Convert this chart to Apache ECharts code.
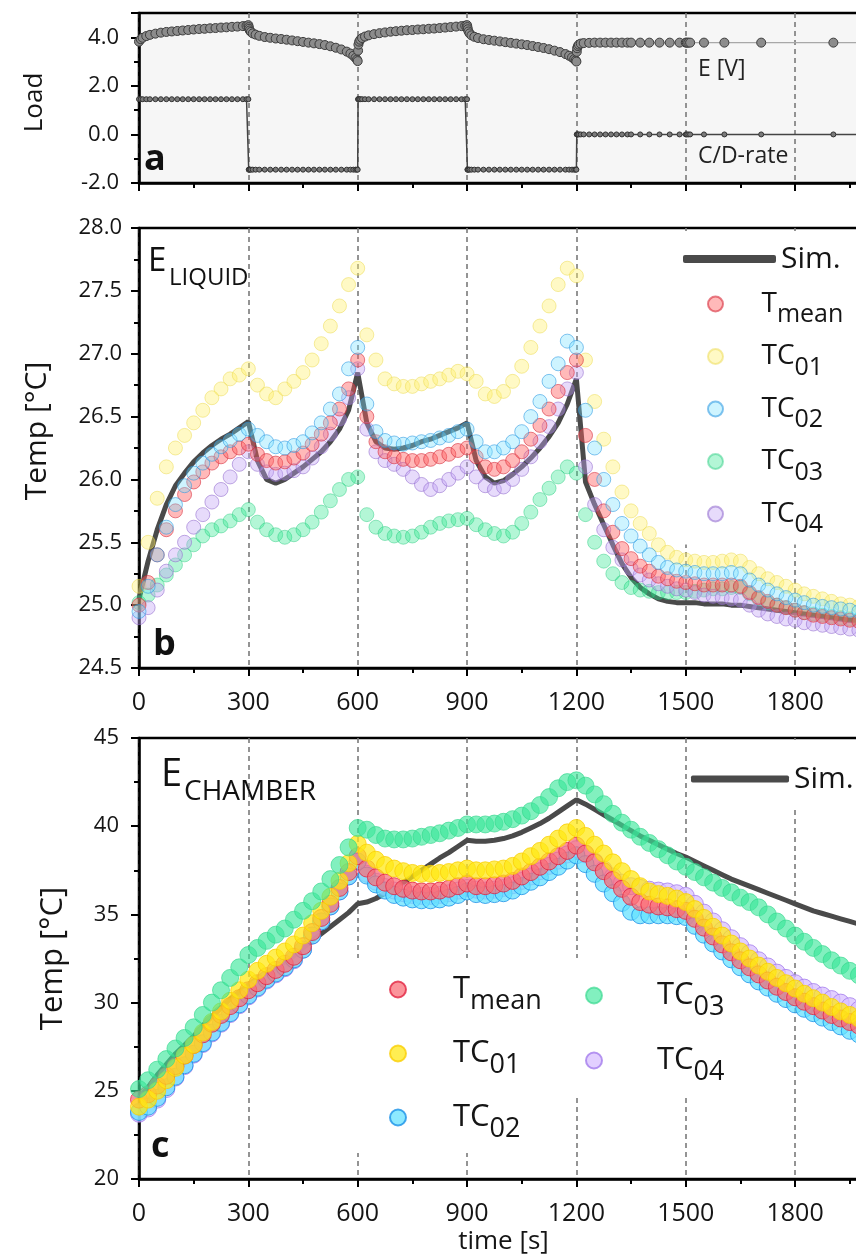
<!DOCTYPE html>
<html><head><meta charset="utf-8">
<script src="https://cdn.jsdelivr.net/npm/echarts@6/dist/echarts.min.js"></script>
<style>html,body{margin:0;padding:0;background:#fff;}#chart{width:856px;height:1256px;}</style>
</head><body><div id="chart"></div>
<script>
const FONT = "'Open Sans', 'DejaVu Sans', sans-serif";

// ---------- panel a : load ----------
const timeA = [0,5,10,20,30,45,60,75,90,105,120,135,150,165,180,195,210,225,240,255,270,285,295,300,
  301,302,304,307,312,320,330,345,360,375,390,405,420,435,450,465,480,495,510,525,540,555,570,580,588,594,598,600,
  601,602,604,607,612,620,630,645,660,675,690,705,720,735,750,765,780,795,810,825,840,855,870,885,895,900,
  901,902,904,907,912,920,930,945,960,975,990,1005,1020,1035,1050,1065,1080,1095,1110,1125,1140,1155,1170,1180,1188,1194,1198,1200,
  1201,1202,1204,1207,1212,1220,1235,1250,1265,1280,1295,1310,1325,1340,1350,1375,1400,1428,1456,1483,1500,1503,1507,1512,1550,1606,1707,1905,2310];
const voltE = [3.82,3.92,3.98,4.05,4.10,4.15,4.19,4.22,4.24,4.26,4.28,4.30,4.32,4.34,4.35,4.37,4.38,4.40,4.41,4.43,4.44,4.46,4.47,4.50,
  4.42,4.35,4.28,4.22,4.16,4.11,4.06,4.01,3.98,3.95,3.93,3.90,3.87,3.84,3.81,3.78,3.75,3.72,3.68,3.63,3.57,3.50,3.41,3.33,3.24,3.15,3.08,3.02,
  3.45,3.70,3.82,3.90,3.97,4.03,4.08,4.13,4.17,4.20,4.23,4.25,4.27,4.29,4.30,4.32,4.33,4.35,4.36,4.38,4.40,4.42,4.44,4.46,4.48,4.50,
  4.42,4.33,4.24,4.16,4.08,4.02,3.97,3.92,3.89,3.86,3.83,3.80,3.77,3.74,3.71,3.68,3.64,3.60,3.56,3.51,3.45,3.39,3.31,3.24,3.17,3.10,3.05,3.00,
  3.40,3.55,3.64,3.70,3.74,3.76,3.77,3.78,3.78,3.78,3.78,3.78,3.78,3.78,3.78,3.78,3.78,3.78,3.78,3.78,3.78,3.78,3.78,3.78,3.78,3.78,3.78,3.78,3.78];
const rateCD = [1.45,1.45,1.45,1.45,1.45,1.45,1.45,1.45,1.45,1.45,1.45,1.45,1.45,1.45,1.45,1.45,1.45,1.45,1.45,1.45,1.45,1.45,1.45,1.45,
  -1.45,-1.45,-1.45,-1.45,-1.45,-1.45,-1.45,-1.45,-1.45,-1.45,-1.45,-1.45,-1.45,-1.45,-1.45,-1.45,-1.45,-1.45,-1.45,-1.45,-1.45,-1.45,-1.45,-1.45,-1.45,-1.45,-1.45,-1.45,
  1.45,1.45,1.45,1.45,1.45,1.45,1.45,1.45,1.45,1.45,1.45,1.45,1.45,1.45,1.45,1.45,1.45,1.45,1.45,1.45,1.45,1.45,1.45,1.45,1.45,1.45,
  -1.45,-1.45,-1.45,-1.45,-1.45,-1.45,-1.45,-1.45,-1.45,-1.45,-1.45,-1.45,-1.45,-1.45,-1.45,-1.45,-1.45,-1.45,-1.45,-1.45,-1.45,-1.45,-1.45,-1.45,-1.45,-1.45,-1.45,-1.45,
  0,0,0,0,0,0,0,0,0,0,0,0,0,0,0,0,0,0,0,0,0,0,0,0,0,0,0,0,0];

// ---------- shared time base for panels b and c (s) ----------
const timeBC = [0,25,50,75,100,125,150,175,200,225,250,275,
  300,325,350,375,400,425,450,475,500,525,550,575,
  600,625,650,675,700,725,750,775,800,825,850,875,
  900,925,950,975,1000,1025,1050,1075,1100,1125,1150,1175,
  1200,1225,1250,1275,1300,1325,1350,1375,1400,1425,1450,1475,
  1500,1525,1550,1575,1600,1625,1650,1675,1700,1725,1750,1775,
  1800,1825,1850,1875,1900,1925,1950,1975,2000];

// ---------- panel b : E_LIQUID ----------
const simB = [25.05,25.35,25.60,25.80,25.95,26.05,26.14,26.21,26.27,26.32,26.36,26.41,
  26.46,26.15,26.00,25.97,26.00,26.05,26.10,26.16,26.22,26.30,26.40,26.55,
  26.85,26.45,26.30,26.25,26.24,26.25,26.27,26.30,26.32,26.35,26.38,26.41,
  26.45,26.15,26.02,25.97,25.99,26.04,26.10,26.17,26.25,26.34,26.45,26.60,
  26.80,25.98,25.80,25.64,25.48,25.33,25.22,25.14,25.09,25.05,25.03,25.02,
  25.02,25.02,25.01,25.01,25.01,25.00,25.00,24.99,24.98,24.97,24.96,24.95,
  24.94,24.93,24.92,24.91,24.90,24.89,24.88,24.88,24.87];
const tmeanB = [25.00,25.18,25.40,25.60,25.75,25.88,25.98,26.06,26.13,26.18,26.22,26.25,
  26.28,26.20,26.15,26.13,26.14,26.17,26.21,26.28,26.36,26.45,26.56,26.72,
  26.95,26.50,26.30,26.22,26.18,26.16,26.15,26.15,26.16,26.18,26.20,26.23,
  26.25,26.18,26.10,26.08,26.10,26.15,26.22,26.32,26.43,26.56,26.70,26.85,
  26.95,26.35,26.00,25.75,25.58,25.45,25.37,25.31,25.27,25.23,25.21,25.19,
  25.18,25.17,25.16,25.16,25.16,25.16,25.15,25.10,25.06,25.03,25.00,24.98,
  24.96,24.94,24.92,24.91,24.90,24.89,24.88,24.87,24.86];
const tc01B = [25.15,25.50,25.85,26.10,26.25,26.35,26.45,26.55,26.65,26.72,26.80,26.83,
  26.88,26.75,26.68,26.65,26.72,26.78,26.85,26.95,27.08,27.22,27.38,27.55,
  27.68,27.15,26.95,26.80,26.76,26.74,26.74,26.76,26.78,26.80,26.83,26.86,
  26.84,26.78,26.68,26.66,26.70,26.78,26.90,27.05,27.22,27.38,27.55,27.68,
  27.62,26.95,26.62,26.32,26.10,25.90,25.75,25.65,25.57,25.48,25.42,25.38,
  25.36,25.35,25.34,25.34,25.35,25.36,25.35,25.30,25.25,25.21,25.18,25.15,
  25.12,25.09,25.07,25.05,25.03,25.01,25.00,24.99,24.98];
const tc02B = [24.95,25.15,25.40,25.62,25.80,25.95,26.05,26.13,26.20,26.26,26.31,26.36,
  26.40,26.35,26.30,26.26,26.25,26.27,26.30,26.37,26.45,26.56,26.68,26.88,
  27.05,26.60,26.38,26.31,26.29,26.28,26.29,26.30,26.31,26.33,26.35,26.38,
  26.40,26.30,26.22,26.22,26.25,26.30,26.38,26.50,26.62,26.78,26.92,27.10,
  27.05,26.55,26.25,26.00,25.80,25.65,25.55,25.47,25.40,25.34,25.30,25.28,
  25.27,25.26,25.25,25.25,25.25,25.26,25.25,25.20,25.16,25.12,25.09,25.06,
  25.04,25.02,25.00,24.99,24.98,24.97,24.96,24.95,24.94];
const tc03B = [25.02,25.08,25.16,25.24,25.32,25.40,25.48,25.55,25.60,25.63,25.67,25.72,
  25.76,25.66,25.60,25.56,25.54,25.56,25.60,25.66,25.74,25.83,25.92,26.00,
  26.02,25.72,25.62,25.57,25.55,25.54,25.55,25.58,25.62,25.65,25.67,25.68,
  25.69,25.64,25.60,25.57,25.55,25.58,25.65,25.74,25.84,25.93,26.02,26.10,
  26.05,25.72,25.50,25.35,25.25,25.18,25.14,25.12,25.11,25.10,25.10,25.10,
  25.10,25.11,25.12,25.13,25.13,25.14,25.14,25.09,25.05,25.02,25.00,24.98,
  24.96,24.94,24.93,24.92,24.91,24.90,24.89,24.88,24.87];
const tc04B = [24.90,24.98,25.12,25.27,25.40,25.50,25.62,25.72,25.82,25.92,26.02,26.12,
  26.22,26.12,26.06,26.04,26.05,26.07,26.10,26.17,26.26,26.36,26.48,26.65,
  26.88,26.40,26.22,26.15,26.12,26.08,26.02,25.96,25.92,25.95,26.00,26.05,
  26.10,26.02,25.95,25.92,25.94,26.00,26.08,26.18,26.30,26.42,26.56,26.72,
  26.85,26.10,25.80,25.60,25.46,25.36,25.29,25.24,25.20,25.17,25.15,25.13,
  25.12,25.10,25.08,25.07,25.06,25.05,25.04,25.00,24.96,24.93,24.91,24.89,
  24.88,24.86,24.85,24.84,24.83,24.82,24.81,24.80,24.80];

// ---------- panel c : E_CHAMBER ----------
const simC = [24.6,25.2,25.9,26.5,27.1,27.6,28.1,28.7,29.2,29.7,30.2,30.6,
  31.0,31.4,31.7,32.0,32.3,32.65,33.1,33.5,33.9,34.3,34.7,35.1,
  35.6,35.7,35.9,36.2,36.5,36.8,37.15,37.5,37.85,38.2,38.5,38.85,
  39.2,39.15,39.15,39.2,39.3,39.45,39.65,39.9,40.15,40.45,40.8,41.15,
  41.5,41.25,40.95,40.65,40.35,40.05,39.75,39.45,39.2,38.95,38.7,38.45,
  38.25,38.0,37.75,37.5,37.25,37.0,36.8,36.6,36.4,36.2,36.0,35.8,
  35.6,35.4,35.2,35.05,34.9,34.75,34.6,34.45,34.3];
const tmeanC = [24.5,24.8,25.3,25.85,26.4,27.0,27.6,28.2,28.8,29.3,29.8,30.25,
  30.7,31.1,31.5,31.85,32.2,32.6,33.2,34.0,34.8,35.6,36.5,37.4,
  38.3,37.6,37.1,36.8,36.6,36.45,36.35,36.3,36.3,36.35,36.45,36.6,
  36.75,36.6,36.6,36.65,36.75,36.9,37.15,37.4,37.7,38.0,38.3,38.6,
  38.9,38.45,37.95,37.45,36.95,36.45,36.0,35.7,35.55,35.45,35.4,35.3,
  35.2,34.75,34.25,33.75,33.3,32.85,32.4,32.0,31.6,31.25,30.9,30.6,
  30.3,30.05,29.8,29.55,29.3,29.1,28.9,28.7,28.5];
const tc01C = [24.1,24.5,25.0,25.6,26.3,27.0,27.6,28.3,28.9,29.5,30.1,30.7,
  31.3,31.8,32.2,32.55,32.9,33.3,33.8,34.5,35.2,36.0,36.9,37.9,
  39.0,38.5,38.1,37.8,37.6,37.45,37.35,37.3,37.3,37.35,37.4,37.5,
  37.6,37.5,37.5,37.55,37.6,37.75,38.0,38.3,38.6,38.95,39.3,39.65,
  39.9,39.45,38.95,38.45,37.95,37.45,37.0,36.6,36.3,36.15,36.05,35.9,
  35.7,35.3,34.8,34.3,33.8,33.35,32.9,32.5,32.1,31.75,31.4,31.1,
  30.8,30.5,30.25,30.0,29.75,29.5,29.3,29.1,28.9];
const tc02C = [23.8,24.1,24.6,25.2,25.8,26.45,27.1,27.7,28.3,28.85,29.4,29.9,
  30.4,30.85,31.3,31.65,32.0,32.45,33.0,33.8,34.6,35.45,36.3,37.15,
  38.0,37.2,36.7,36.35,36.1,35.95,35.85,35.8,35.8,35.85,35.95,36.1,
  36.3,36.15,36.1,36.15,36.2,36.35,36.6,36.85,37.1,37.4,37.7,38.05,
  38.35,37.85,37.3,36.75,36.2,35.65,35.15,34.95,34.95,34.95,34.95,34.9,
  34.85,34.35,33.85,33.35,32.9,32.45,32.0,31.6,31.2,30.85,30.5,30.2,
  29.9,29.65,29.4,29.15,28.9,28.65,28.4,28.2,28.0];
const tc03C = [25.1,25.6,26.2,26.8,27.4,28.0,28.6,29.3,30.0,30.7,31.4,32.0,
  32.7,33.1,33.5,33.85,34.2,34.7,35.2,35.75,36.3,37.0,37.8,38.8,
  39.9,39.8,39.5,39.3,39.25,39.25,39.3,39.4,39.5,39.6,39.75,39.9,
  40.1,40.1,40.1,40.15,40.25,40.4,40.6,40.85,41.2,41.65,42.15,42.5,
  42.6,42.3,41.8,41.25,40.7,40.2,39.8,39.4,39.05,38.7,38.35,38.0,
  37.7,37.4,37.1,36.8,36.5,36.25,35.95,35.7,35.4,35.0,34.6,34.2,
  33.8,33.45,33.1,32.75,32.4,32.1,31.8,31.55,31.3];
const tc04C = [23.7,24.0,24.5,25.1,25.75,26.4,27.05,27.65,28.25,28.8,29.35,29.85,
  30.35,30.8,31.25,31.6,31.95,32.4,33.0,33.8,34.6,35.45,36.3,37.15,
  38.0,37.3,36.85,36.55,36.35,36.2,36.1,36.05,36.05,36.1,36.2,36.35,
  36.5,36.4,36.35,36.4,36.5,36.65,36.9,37.15,37.45,37.75,38.05,38.4,
  38.7,38.4,38.0,37.55,37.15,36.8,36.6,36.5,36.4,36.35,36.3,36.2,
  36.05,35.6,35.1,34.6,34.1,33.65,33.2,32.8,32.4,32.05,31.7,31.4,
  31.1,30.85,30.6,30.4,30.2,30.0,29.8,29.6,29.4];

// legend label texts (rich, with subscripts)
const legendText = {
  'Sim.': 'Sim.', 'Sim. (c)': 'Sim.',
  'Tmean (b)': '{m|T}{s|mean}', 'TC01 (b)': '{m|TC}{s|01}', 'TC02 (b)': '{m|TC}{s|02}', 'TC03 (b)': '{m|TC}{s|03}', 'TC04 (b)': '{m|TC}{s|04}',
  'Tmean (c)': '{m|T}{s|mean}', 'TC01 (c)': '{m|TC}{s|01}', 'TC02 (c)': '{m|TC}{s|02}', 'TC03 (c)': '{m|TC}{s|03}', 'TC04 (c)': '{m|TC}{s|04}'
};

function pairs(xs, ys) { return xs.map((x, i) => [x, ys[i]]); }

const INK = '#151515';
const SIM = '#4a4a4a';

function xAx(gridIndex, showLabels, name) {
  return {
    type: 'value', gridIndex, min: 0, max: 2000, interval: 300,
    axisLine: { show: true, onZero: false, lineStyle: { color: '#000', width: 2.5 } },
    axisTick: { show: true, inside: false, length: 8, lineStyle: { color: '#000', width: 2 } },
    minorTick: { show: true, splitNumber: 2, length: 5, lineStyle: { color: '#000', width: 2 } },
    splitLine: { show: true, lineStyle: { color: '#7a7a7a', width: 1.6, type: [5, 4] } },
    axisLabel: { show: showLabels, fontSize: 25, fontFamily: FONT, color: INK, margin: 22, showMaxLabel: false,
      formatter: v => String(v) },
    name: name || '', nameLocation: 'middle', nameGap: 50,
    nameTextStyle: { fontSize: 26, fontFamily: FONT, color: INK }
  };
}
function yAx(gridIndex, min, max, interval, digits, name, nameGap, nameSize, margin, namePad) {
  return {
    type: 'value', gridIndex, min, max, interval,
    axisLine: { show: true, onZero: false, lineStyle: { color: '#000', width: 2.5 } },
    axisTick: { show: true, inside: false, length: 8, lineStyle: { color: '#000', width: 2 } },
    minorTick: { show: true, splitNumber: 2, length: 5, lineStyle: { color: '#000', width: 2 } },
    splitLine: { show: false },
    axisLabel: { fontSize: 22, fontFamily: FONT, color: INK, margin, showMaxLabel: max % interval === 0,
      formatter: v => v.toFixed(digits) },
    name, nameLocation: 'middle', nameGap,
    nameTextStyle: { fontSize: nameSize, fontFamily: FONT, color: INK, padding: namePad }
  };
}

// measured points drawn on a layer above the simulation line
function dots(name, xi, ys, size, fill, stroke) {
  return { type: 'scatter', name, xAxisIndex: xi, yAxisIndex: xi, data: pairs(timeBC, ys), zlevel: 1, z: 3,
    symbol: 'circle', symbolSize: size, clip: true,
    itemStyle: { color: fill, borderColor: stroke, borderWidth: 1 }, emphasis: { disabled: true } };
}
function simLine(name, xi, ys) {
  return { type: 'line', name, xAxisIndex: xi, yAxisIndex: xi, data: pairs(timeBC, ys), zlevel: 0, z: 2,
    symbol: 'none', itemStyle: { color: SIM }, lineStyle: { color: SIM, width: 5 }, clip: true };
}

const richB = {
  m: { fontSize: 28, fontFamily: FONT, color: INK, verticalAlign: 'middle' },
  s: { fontSize: 25, fontFamily: FONT, color: INK, verticalAlign: 'middle', padding: [22, 0, 0, 0] }
};
const richC = {
  m: { fontSize: 31, fontFamily: FONT, color: INK, verticalAlign: 'middle' },
  s: { fontSize: 27, fontFamily: FONT, color: INK, verticalAlign: 'middle', padding: [24, 0, 0, 0] }
};

const option = {
  animation: false,
  backgroundColor: '#fff',
  grid: [
    { left: 139, top: 13, width: 729, height: 170, show: true, backgroundColor: '#f6f6f6', borderColor: '#000', borderWidth: 2.5, outerBoundsMode: 'none' },
    { left: 139, top: 228, width: 729, height: 440, show: true, backgroundColor: '#fff', borderColor: '#000', borderWidth: 2.5, outerBoundsMode: 'none' },
    { left: 139, top: 738, width: 729, height: 441, show: true, backgroundColor: '#fff', borderColor: '#000', borderWidth: 2.5, outerBoundsMode: 'none' }
  ],
  xAxis: [ xAx(0, false), xAx(1, true), xAx(2, true, 'time [s]') ],
  yAxis: [
    yAx(0, -2, 5, 2, 1, 'Load', 91, 26, 20, [0, 9, 0, 0]),
    yAx(1, 24.5, 28, 0.5, 1, 'Temp [°C]', 87, 30, 17, [0, 0, 0, 34]),
    yAx(2, 20, 45, 5, 0, 'Temp [°C]', 70, 31, 20, [0, 0, 0, 0])
  ],
  legend: [
    { data: [{ name: 'Sim.', icon: 'roundRect' }], selectedMode: false, orient: 'vertical', left: 680, top: 231,
      itemWidth: 93, itemHeight: 8, padding: [11, 80, 0, 3], backgroundColor: '#fff',
      formatter: n => legendText[n],
      textStyle: { fontSize: 30, lineHeight: 34, fontFamily: FONT, color: INK } },
    { data: ['Tmean (b)', 'TC01 (b)', 'TC02 (b)', 'TC03 (b)', 'TC04 (b)'], selectedMode: false, orient: 'vertical',
      left: 677, top: 276, itemWidth: 82, itemHeight: 15, itemGap: 15, padding: [14, 60, 7, 30], backgroundColor: '#fff',
      formatter: n => legendText[n], textStyle: { rich: richB } },
    { data: [{ name: 'Sim. (c)', icon: 'roundRect' }], selectedMode: false, orient: 'vertical', left: 688, top: 740,
      itemWidth: 98, itemHeight: 7, padding: [21, 80, 10, 3], backgroundColor: '#fff',
      formatter: n => legendText[n],
      textStyle: { fontSize: 30, lineHeight: 36, fontFamily: FONT, color: INK } },
    { data: ['Tmean (c)', 'TC01 (c)', 'TC02 (c)'], selectedMode: false, orient: 'vertical',
      left: 349, top: 958, itemWidth: 100, itemHeight: 16, itemGap: 23, padding: [16, 0, 10, 40], backgroundColor: '#fff',
      formatter: n => legendText[n], textStyle: { rich: richC } },
    { data: ['TC03 (c)', 'TC04 (c)'], selectedMode: false, orient: 'vertical',
      left: 573, top: 958, itemWidth: 116, itemHeight: 16, itemGap: 24, padding: [22, 4, 12, 12], backgroundColor: '#fff',
      formatter: n => legendText[n], textStyle: { rich: richC } }
  ],
  graphic: [
    { type: 'text', x: 698, y: 69, z: 100, style: { text: 'E [V]', font: `23px ${FONT}`, fill: '#222', verticalAlign: 'middle', textVerticalAlign: 'middle' } },
    { type: 'text', x: 698, y: 156, z: 100, style: { text: 'C/D-rate', font: `23px ${FONT}`, fill: '#222', verticalAlign: 'middle', textVerticalAlign: 'middle' } },
    { type: 'text', x: 144, y: 160, z: 100, style: { text: 'a', font: `bold 36px ${FONT}`, fill: '#111', verticalAlign: 'middle', textVerticalAlign: 'middle' } },
    { type: 'text', x: 153, y: 645, z: 100, style: { text: 'b', font: `bold 36px ${FONT}`, fill: '#111', verticalAlign: 'middle', textVerticalAlign: 'middle' } },
    { type: 'text', x: 151, y: 1147, z: 100, style: { text: 'c', font: `bold 36px ${FONT}`, fill: '#111', verticalAlign: 'middle', textVerticalAlign: 'middle' } },
    { type: 'text', x: 148, y: 262, z: 100, style: { text: 'E', font: `33px ${FONT}`, fill: '#111', verticalAlign: 'middle', textVerticalAlign: 'middle' } },
    { type: 'text', x: 169, y: 278, z: 100, style: { text: 'LIQUID', font: `24px ${FONT}`, fill: '#111', verticalAlign: 'middle', textVerticalAlign: 'middle' } },
    { type: 'text', x: 161, y: 775, z: 100, style: { text: 'E', font: `38px ${FONT}`, fill: '#111', verticalAlign: 'middle', textVerticalAlign: 'middle' } },
    { type: 'text', x: 184, y: 792, z: 100, style: { text: 'CHAMBER', font: `28px ${FONT}`, fill: '#111', verticalAlign: 'middle', textVerticalAlign: 'middle' } }
  ],
  series: [
    // panel a
    { type: 'line', name: 'E [V]', xAxisIndex: 0, yAxisIndex: 0, data: pairs(timeA, voltE),
      symbol: 'circle', symbolSize: 9, showAllSymbol: true, clip: true,
      itemStyle: { color: '#8c8c8c', borderColor: '#3c3c3c', borderWidth: 1 },
      lineStyle: { color: '#a8a8a8', width: 1.2 } },
    { type: 'line', name: 'C/D-rate', xAxisIndex: 0, yAxisIndex: 0, data: pairs(timeA, rateCD),
      symbol: 'circle', symbolSize: 5, showAllSymbol: true, clip: true,
      itemStyle: { color: '#7a7a7a', borderColor: '#333', borderWidth: 1 },
      lineStyle: { color: '#444', width: 1.5 } },
    // panel b
    simLine('Sim.', 1, simB),
    dots('TC03 (b)', 1, tc03B, 14, 'rgba(45,230,140,0.45)', 'rgba(30,200,120,0.55)'),
    dots('TC01 (b)', 1, tc01B, 14, 'rgba(255,240,110,0.5)', 'rgba(235,215,70,0.6)'),
    dots('TC04 (b)', 1, tc04B, 14, 'rgba(195,165,245,0.5)', 'rgba(145,105,205,0.7)'),
    dots('Tmean (b)', 1, tmeanB, 14, 'rgba(255,95,95,0.55)', 'rgba(215,45,60,0.75)'),
    dots('TC02 (b)', 1, tc02B, 14, 'rgba(120,225,255,0.45)', 'rgba(40,150,225,0.7)'),
    // panel c
    simLine('Sim. (c)', 2, simC),
    dots('TC04 (c)', 2, tc04C, 17, 'rgba(215,190,255,0.92)', 'rgba(160,120,235,0.95)'),
    dots('TC02 (c)', 2, tc02C, 17, 'rgba(100,225,255,0.92)', 'rgba(20,140,230,0.95)'),
    dots('Tmean (c)', 2, tmeanC, 17, 'rgba(250,110,120,0.92)', 'rgba(225,30,60,0.95)'),
    dots('TC01 (c)', 2, tc01C, 17, 'rgba(255,232,20,0.92)', 'rgba(250,205,0,0.95)'),
    dots('TC03 (c)', 2, tc03C, 17, 'rgba(60,232,155,0.8)', 'rgba(50,215,140,0.8)')
  ]
};

const chart = echarts.init(document.getElementById('chart'), null, { renderer: 'canvas' });
chart.setOption(option);
</script></body></html>
